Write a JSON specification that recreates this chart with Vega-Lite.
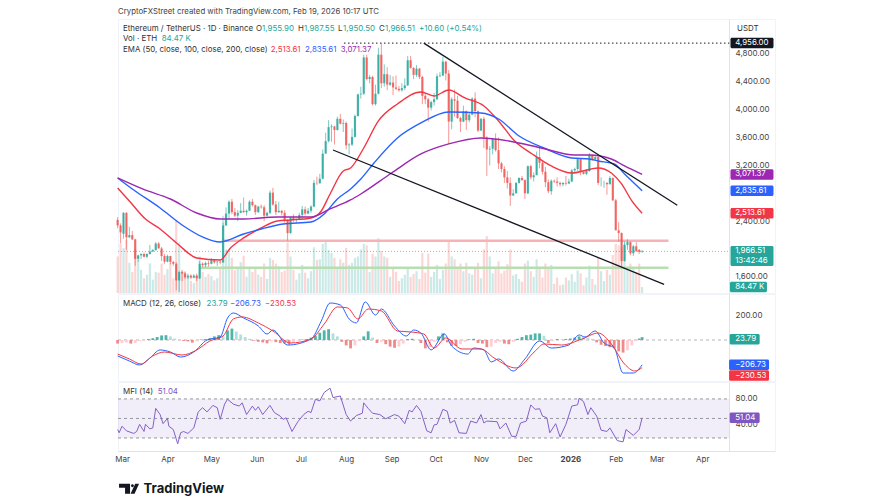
{
"$schema":"https://vega.github.io/schema/vega-lite/v6.json",
"background":"white",
"padding":{"left":114,"top":7,"right":0,"bottom":0},
"spacing":1,
"bounds":"flush",
"config":{"font":"Inter","scale":{"continuousPadding":0},"view":{"stroke":"#f0f3fa"},"axis":{"grid":false,"ticks":false,"title":null,"domainColor":"#e0e3eb","labelColor":"#444","labelFontSize":8,"labelFont":"Inter"},"text":{"align":"left","baseline":"middle","fontSize":7.9,"font":"Inter"},"line":{"strokeWidth":1.4,"interpolate":"monotone"}},
"datasets":{
"candles":[
{"date":"2025-02-26","open":2420,"high":2460,"low":2300,"close":2340,"vol":520},
{"date":"2025-02-28","open":2340,"high":2370,"low":2080,"close":2240,"vol":700},
{"date":"2025-03-02","open":2220,"high":2530,"low":2150,"close":2520,"vol":640},
{"date":"2025-03-04","open":2520,"high":2530,"low":1990,"close":2170,"vol":760},
{"date":"2025-03-06","open":2170,"high":2320,"low":2160,"close":2200,"vol":430},
{"date":"2025-03-08","open":2200,"high":2260,"low":2130,"close":2140,"vol":300},
{"date":"2025-03-10","open":2140,"high":2150,"low":1760,"close":1860,"vol":620},
{"date":"2025-03-12","open":1860,"high":1920,"low":1820,"close":1910,"vol":470},
{"date":"2025-03-14","open":1910,"high":1940,"low":1860,"close":1930,"vol":330},
{"date":"2025-03-16","open":1930,"high":1950,"low":1880,"close":1890,"vol":210},
{"date":"2025-03-18","open":1890,"high":1940,"low":1870,"close":1930,"vol":260},
{"date":"2025-03-20","open":1930,"high":2060,"low":1920,"close":1965,"vol":420},
{"date":"2025-03-22","open":1965,"high":2000,"low":1960,"close":1985,"vol":190},
{"date":"2025-03-24","open":1985,"high":2100,"low":1980,"close":2080,"vol":300},
{"date":"2025-03-26","open":2080,"high":2100,"low":2010,"close":2010,"vol":290},
{"date":"2025-03-28","open":2010,"high":2030,"low":1830,"close":1900,"vol":420},
{"date":"2025-03-30","open":1900,"high":1930,"low":1790,"close":1820,"vol":260},
{"date":"2025-04-01","open":1820,"high":1920,"low":1810,"close":1900,"vol":340},
{"date":"2025-04-03","open":1900,"high":1905,"low":1780,"close":1815,"vol":430},
{"date":"2025-04-05","open":1815,"high":1830,"low":1760,"close":1790,"vol":210},
{"date":"2025-04-07","open":1790,"high":1810,"low":1410,"close":1550,"vol":1040},
{"date":"2025-04-09","open":1550,"high":1690,"low":1385,"close":1670,"vol":720},
{"date":"2025-04-11","open":1670,"high":1690,"low":1540,"close":1650,"vol":330},
{"date":"2025-04-13","open":1650,"high":1680,"low":1570,"close":1595,"vol":300},
{"date":"2025-04-15","open":1595,"high":1650,"low":1570,"close":1620,"vol":230},
{"date":"2025-04-17","open":1620,"high":1640,"low":1570,"close":1590,"vol":170},
{"date":"2025-04-19","open":1590,"high":1640,"low":1580,"close":1620,"vol":140},
{"date":"2025-04-21","open":1620,"high":1650,"low":1540,"close":1580,"vol":250},
{"date":"2025-04-23","open":1580,"high":1830,"low":1570,"close":1790,"vol":520},
{"date":"2025-04-25","open":1790,"high":1810,"low":1740,"close":1770,"vol":300},
{"date":"2025-04-27","open":1770,"high":1820,"low":1740,"close":1800,"vol":230},
{"date":"2025-04-29","open":1800,"high":1830,"low":1750,"close":1790,"vol":270},
{"date":"2025-05-01","open":1790,"high":1870,"low":1780,"close":1840,"vol":240},
{"date":"2025-05-03","open":1840,"high":1850,"low":1790,"close":1810,"vol":180},
{"date":"2025-05-05","open":1810,"high":1830,"low":1760,"close":1820,"vol":210},
{"date":"2025-05-07","open":1820,"high":1850,"low":1780,"close":1810,"vol":360},
{"date":"2025-05-09","open":1810,"high":2380,"low":1800,"close":2340,"vol":1100},
{"date":"2025-05-11","open":2340,"high":2600,"low":2330,"close":2510,"vol":620},
{"date":"2025-05-13","open":2510,"high":2700,"low":2420,"close":2680,"vol":580},
{"date":"2025-05-15","open":2680,"high":2720,"low":2500,"close":2530,"vol":500},
{"date":"2025-05-17","open":2530,"high":2590,"low":2460,"close":2480,"vol":330},
{"date":"2025-05-19","open":2480,"high":2560,"low":2400,"close":2520,"vol":360},
{"date":"2025-05-21","open":2520,"high":2660,"low":2520,"close":2550,"vol":440},
{"date":"2025-05-23","open":2550,"high":2740,"low":2520,"close":2530,"vol":530},
{"date":"2025-05-25","open":2530,"high":2570,"low":2480,"close":2550,"vol":230},
{"date":"2025-05-27","open":2550,"high":2700,"low":2550,"close":2680,"vol":370},
{"date":"2025-05-29","open":2680,"high":2720,"low":2610,"close":2630,"vol":300},
{"date":"2025-05-31","open":2630,"high":2640,"low":2490,"close":2530,"vol":340},
{"date":"2025-06-02","open":2530,"high":2620,"low":2520,"close":2610,"vol":260},
{"date":"2025-06-04","open":2610,"high":2640,"low":2580,"close":2600,"vol":230},
{"date":"2025-06-06","open":2600,"high":2630,"low":2400,"close":2480,"vol":420},
{"date":"2025-06-08","open":2480,"high":2540,"low":2470,"close":2520,"vol":200},
{"date":"2025-06-10","open":2520,"high":2840,"low":2500,"close":2810,"vol":500},
{"date":"2025-06-12","open":2810,"high":2880,"low":2620,"close":2640,"vol":470},
{"date":"2025-06-14","open":2640,"high":2690,"low":2490,"close":2530,"vol":420},
{"date":"2025-06-16","open":2530,"high":2680,"low":2520,"close":2550,"vol":380},
{"date":"2025-06-18","open":2550,"high":2560,"low":2480,"close":2520,"vol":300},
{"date":"2025-06-20","open":2520,"high":2560,"low":2380,"close":2410,"vol":320},
{"date":"2025-06-22","open":2410,"high":2430,"low":2120,"close":2230,"vol":720},
{"date":"2025-06-24","open":2230,"high":2460,"low":2220,"close":2450,"vol":520},
{"date":"2025-06-26","open":2450,"high":2500,"low":2390,"close":2420,"vol":330},
{"date":"2025-06-28","open":2420,"high":2440,"low":2380,"close":2430,"vol":190},
{"date":"2025-06-30","open":2430,"high":2520,"low":2420,"close":2490,"vol":280},
{"date":"2025-07-02","open":2490,"high":2620,"low":2430,"close":2570,"vol":400},
{"date":"2025-07-04","open":2570,"high":2610,"low":2480,"close":2510,"vol":290},
{"date":"2025-07-06","open":2510,"high":2590,"low":2500,"close":2550,"vol":210},
{"date":"2025-07-08","open":2550,"high":2630,"low":2520,"close":2610,"vol":310},
{"date":"2025-07-10","open":2610,"high":2990,"low":2600,"close":2950,"vol":650},
{"date":"2025-07-12","open":2950,"high":3040,"low":2920,"close":2945,"vol":470},
{"date":"2025-07-14","open":2945,"high":3080,"low":2940,"close":3010,"vol":480},
{"date":"2025-07-16","open":3010,"high":3430,"low":3000,"close":3370,"vol":700},
{"date":"2025-07-18","open":3370,"high":3670,"low":3370,"close":3550,"vol":750},
{"date":"2025-07-20","open":3550,"high":3850,"low":3530,"close":3750,"vol":610},
{"date":"2025-07-22","open":3750,"high":3790,"low":3540,"close":3760,"vol":570},
{"date":"2025-07-24","open":3760,"high":3770,"low":3500,"close":3710,"vol":500},
{"date":"2025-07-26","open":3710,"high":3900,"low":3700,"close":3870,"vol":350},
{"date":"2025-07-28","open":3870,"high":3940,"low":3790,"close":3800,"vol":480},
{"date":"2025-07-30","open":3800,"high":3860,"low":3680,"close":3810,"vol":430},
{"date":"2025-08-01","open":3810,"high":3830,"low":3430,"close":3490,"vol":640},
{"date":"2025-08-03","open":3490,"high":3520,"low":3360,"close":3500,"vol":400},
{"date":"2025-08-05","open":3500,"high":3730,"low":3480,"close":3610,"vol":430},
{"date":"2025-08-07","open":3610,"high":3930,"low":3600,"close":3910,"vol":500},
{"date":"2025-08-09","open":3910,"high":4230,"low":3900,"close":4220,"vol":520},
{"date":"2025-08-11","open":4220,"high":4330,"low":4160,"close":4230,"vol":620},
{"date":"2025-08-13","open":4230,"high":4790,"low":4210,"close":4750,"vol":700},
{"date":"2025-08-15","open":4750,"high":4790,"low":4420,"close":4440,"vol":680},
{"date":"2025-08-17","open":4440,"high":4500,"low":4380,"close":4470,"vol":300},
{"date":"2025-08-19","open":4470,"high":4490,"low":4060,"close":4080,"vol":560},
{"date":"2025-08-21","open":4080,"high":4360,"low":4060,"close":4230,"vol":520},
{"date":"2025-08-23","open":4230,"high":4890,"low":4220,"close":4790,"vol":780},
{"date":"2025-08-25","open":4790,"high":4956,"low":4310,"close":4380,"vol":600},
{"date":"2025-08-27","open":4380,"high":4650,"low":4330,"close":4510,"vol":520},
{"date":"2025-08-29","open":4510,"high":4610,"low":4280,"close":4360,"vol":500},
{"date":"2025-08-31","open":4360,"high":4500,"low":4340,"close":4390,"vol":230},
{"date":"2025-09-02","open":4390,"high":4480,"low":4210,"close":4320,"vol":370},
{"date":"2025-09-04","open":4320,"high":4490,"low":4280,"close":4300,"vol":300},
{"date":"2025-09-06","open":4300,"high":4340,"low":4260,"close":4280,"vol":170},
{"date":"2025-09-08","open":4280,"high":4380,"low":4260,"close":4310,"vol":210},
{"date":"2025-09-10","open":4310,"high":4450,"low":4280,"close":4350,"vol":260},
{"date":"2025-09-12","open":4350,"high":4770,"low":4340,"close":4710,"vol":350},
{"date":"2025-09-14","open":4710,"high":4770,"low":4590,"close":4600,"vol":230},
{"date":"2025-09-16","open":4600,"high":4610,"low":4440,"close":4500,"vol":270},
{"date":"2025-09-18","open":4500,"high":4640,"low":4470,"close":4590,"vol":310},
{"date":"2025-09-20","open":4590,"high":4600,"low":4440,"close":4470,"vol":200},
{"date":"2025-09-22","open":4470,"high":4490,"low":4080,"close":4200,"vol":570},
{"date":"2025-09-24","open":4200,"high":4240,"low":4080,"close":4150,"vol":290},
{"date":"2025-09-26","open":4150,"high":4170,"low":3830,"close":4030,"vol":560},
{"date":"2025-09-28","open":4030,"high":4130,"low":3990,"close":4110,"vol":230},
{"date":"2025-09-30","open":4110,"high":4240,"low":4060,"close":4150,"vol":300},
{"date":"2025-10-02","open":4150,"high":4520,"low":4140,"close":4480,"vol":400},
{"date":"2025-10-04","open":4480,"high":4540,"low":4470,"close":4490,"vol":200},
{"date":"2025-10-06","open":4490,"high":4760,"low":4480,"close":4690,"vol":330},
{"date":"2025-10-08","open":4690,"high":4700,"low":4420,"close":4520,"vol":420},
{"date":"2025-10-10","open":4520,"high":4570,"low":3510,"close":3830,"vol":740},
{"date":"2025-10-12","open":3830,"high":4180,"low":3720,"close":4150,"vol":520},
{"date":"2025-10-14","open":4150,"high":4290,"low":3900,"close":4130,"vol":480},
{"date":"2025-10-16","open":4130,"high":4200,"low":3870,"close":3880,"vol":350},
{"date":"2025-10-18","open":3880,"high":3900,"low":3680,"close":3830,"vol":420},
{"date":"2025-10-20","open":3830,"high":4060,"low":3820,"close":3980,"vol":310},
{"date":"2025-10-22","open":3980,"high":3990,"low":3710,"close":3850,"vol":430},
{"date":"2025-10-24","open":3850,"high":3960,"low":3820,"close":3930,"vol":280},
{"date":"2025-10-26","open":3930,"high":4180,"low":3920,"close":4160,"vol":260},
{"date":"2025-10-28","open":4160,"high":4250,"low":3890,"close":3980,"vol":370},
{"date":"2025-10-30","open":3980,"high":3990,"low":3680,"close":3700,"vol":430},
{"date":"2025-11-01","open":3700,"high":3880,"low":3700,"close":3870,"vol":210},
{"date":"2025-11-03","open":3870,"high":3900,"low":3450,"close":3600,"vol":620},
{"date":"2025-11-05","open":3600,"high":3620,"low":3050,"close":3430,"vol":810},
{"date":"2025-11-07","open":3430,"high":3480,"low":3200,"close":3440,"vol":520},
{"date":"2025-11-09","open":3440,"high":3590,"low":3360,"close":3580,"vol":280},
{"date":"2025-11-11","open":3580,"high":3660,"low":3400,"close":3420,"vol":340},
{"date":"2025-11-13","open":3420,"high":3600,"low":3150,"close":3230,"vol":450},
{"date":"2025-11-15","open":3230,"high":3250,"low":3100,"close":3150,"vol":280},
{"date":"2025-11-17","open":3150,"high":3190,"low":2950,"close":3030,"vol":320},
{"date":"2025-11-19","open":3030,"high":3120,"low":2870,"close":2950,"vol":410},
{"date":"2025-11-21","open":2950,"high":3030,"low":2620,"close":2770,"vol":620},
{"date":"2025-11-23","open":2770,"high":2860,"low":2760,"close":2800,"vol":250},
{"date":"2025-11-25","open":2800,"high":2960,"low":2800,"close":2950,"vol":270},
{"date":"2025-11-27","open":2950,"high":3030,"low":2940,"close":3020,"vol":200},
{"date":"2025-11-29","open":3020,"high":3050,"low":2980,"close":2990,"vol":160},
{"date":"2025-12-01","open":2990,"high":3000,"low":2720,"close":2800,"vol":420},
{"date":"2025-12-03","open":2800,"high":3200,"low":2790,"close":3190,"vol":460},
{"date":"2025-12-05","open":3190,"high":3210,"low":3000,"close":3030,"vol":310},
{"date":"2025-12-07","open":3030,"high":3100,"low":2970,"close":3060,"vol":230},
{"date":"2025-12-09","open":3060,"high":3400,"low":3060,"close":3320,"vol":480},
{"date":"2025-12-11","open":3320,"high":3450,"low":3160,"close":3240,"vol":350},
{"date":"2025-12-13","open":3240,"high":3260,"low":3070,"close":3110,"vol":220},
{"date":"2025-12-15","open":3110,"high":3180,"low":2890,"close":2960,"vol":420},
{"date":"2025-12-17","open":2960,"high":3000,"low":2800,"close":2830,"vol":350},
{"date":"2025-12-19","open":2830,"high":3000,"low":2780,"close":2980,"vol":400},
{"date":"2025-12-21","open":2980,"high":3000,"low":2950,"close":2970,"vol":130},
{"date":"2025-12-23","open":2970,"high":3030,"low":2900,"close":2950,"vol":220},
{"date":"2025-12-25","open":2950,"high":2970,"low":2900,"close":2930,"vol":110},
{"date":"2025-12-27","open":2930,"high":2960,"low":2900,"close":2950,"vol":120},
{"date":"2025-12-29","open":2950,"high":3050,"low":2910,"close":2940,"vol":220},
{"date":"2025-12-31","open":2940,"high":3010,"low":2940,"close":2970,"vol":180},
{"date":"2026-01-02","open":2970,"high":3150,"low":2960,"close":3130,"vol":270},
{"date":"2026-01-04","open":3130,"high":3170,"low":3090,"close":3150,"vol":160},
{"date":"2026-01-06","open":3150,"high":3310,"low":3120,"close":3290,"vol":320},
{"date":"2026-01-08","open":3290,"high":3300,"low":3060,"close":3110,"vol":280},
{"date":"2026-01-10","open":3110,"high":3110,"low":3070,"close":3080,"vol":110},
{"date":"2026-01-12","open":3080,"high":3150,"low":3060,"close":3120,"vol":220},
{"date":"2026-01-14","open":3120,"high":3380,"low":3110,"close":3350,"vol":390},
{"date":"2026-01-16","open":3350,"high":3360,"low":3270,"close":3290,"vol":200},
{"date":"2026-01-18","open":3290,"high":3350,"low":3270,"close":3320,"vol":120},
{"date":"2026-01-20","open":3320,"high":3330,"low":2920,"close":2950,"vol":500},
{"date":"2026-01-22","open":2950,"high":3030,"low":2900,"close":2950,"vol":310},
{"date":"2026-01-24","open":2950,"high":2980,"low":2880,"close":2950,"vol":170},
{"date":"2026-01-26","open":2950,"high":2960,"low":2780,"close":2930,"vol":330},
{"date":"2026-01-28","open":2930,"high":3050,"low":2930,"close":3020,"vol":260},
{"date":"2026-01-30","open":3020,"high":3030,"low":2690,"close":2700,"vol":540},
{"date":"2026-02-01","open":2700,"high":2720,"low":2270,"close":2270,"vol":700},
{"date":"2026-02-03","open":2270,"high":2390,"low":2110,"close":2230,"vol":680},
{"date":"2026-02-05","open":2230,"high":2240,"low":1750,"close":1830,"vol":650},
{"date":"2026-02-07","open":1830,"high":2110,"low":1820,"close":2060,"vol":700},
{"date":"2026-02-09","open":2060,"high":2140,"low":1990,"close":2100,"vol":360},
{"date":"2026-02-11","open":2100,"high":2110,"low":1910,"close":1940,"vol":420},
{"date":"2026-02-13","open":1940,"high":2060,"low":1900,"close":2040,"vol":340},
{"date":"2026-02-15","open":2040,"high":2100,"low":1960,"close":1970,"vol":300},
{"date":"2026-02-17","open":1990,"high":2000,"low":1930,"close":1960,"vol":420},
{"date":"2026-02-19","open":1955.9,"high":1987.55,"low":1950.5,"close":1966.51,"vol":84.47}
],
"emas":[
{"series":"EMA 50","date":"2025-02-26","price":2877},{"series":"EMA 50","date":"2025-03-06","price":2691},{"series":"EMA 50","date":"2025-03-17","price":2432},{"series":"EMA 50","date":"2025-03-27","price":2289},{"series":"EMA 50","date":"2025-04-08","price":2074},{"series":"EMA 50","date":"2025-04-21","price":1873},{"series":"EMA 50","date":"2025-05-07","price":1844},{"series":"EMA 50","date":"2025-05-14","price":2016},{"series":"EMA 50","date":"2025-05-23","price":2160},{"series":"EMA 50","date":"2025-06-04","price":2303},{"series":"EMA 50","date":"2025-06-15","price":2404},{"series":"EMA 50","date":"2025-06-24","price":2418},{"series":"EMA 50","date":"2025-07-08","price":2447},{"series":"EMA 50","date":"2025-07-15","price":2547},{"series":"EMA 50","date":"2025-07-21","price":2791},{"series":"EMA 50","date":"2025-07-30","price":3121},{"series":"EMA 50","date":"2025-08-04","price":3164},{"series":"EMA 50","date":"2025-08-13","price":3451},{"series":"EMA 50","date":"2025-08-23","price":3839},{"series":"EMA 50","date":"2025-09-05","price":4082},{"series":"EMA 50","date":"2025-09-21","price":4255},{"series":"EMA 50","date":"2025-09-30","price":4197},{"series":"EMA 50","date":"2025-10-10","price":4283},{"series":"EMA 50","date":"2025-10-21","price":4169},{"series":"EMA 50","date":"2025-11-03","price":4054},{"series":"EMA 50","date":"2025-11-13","price":3839},{"series":"EMA 50","date":"2025-11-24","price":3552},{"series":"EMA 50","date":"2025-12-06","price":3365},{"series":"EMA 50","date":"2025-12-19","price":3193},{"series":"EMA 50","date":"2026-01-02","price":3092},{"series":"EMA 50","date":"2026-01-20","price":3164},{"series":"EMA 50","date":"2026-01-29","price":3092},{"series":"EMA 50","date":"2026-02-05","price":2935},{"series":"EMA 50","date":"2026-02-12","price":2691},{"series":"EMA 50","date":"2026-02-19","price":2513.61},
{"series":"EMA 100","date":"2025-02-26","price":3021},{"series":"EMA 100","date":"2025-03-08","price":2863},{"series":"EMA 100","date":"2025-03-27","price":2590},{"series":"EMA 100","date":"2025-04-12","price":2332},{"series":"EMA 100","date":"2025-04-25","price":2174},{"series":"EMA 100","date":"2025-05-07","price":2102},{"series":"EMA 100","date":"2025-05-23","price":2217},{"series":"EMA 100","date":"2025-06-04","price":2289},{"series":"EMA 100","date":"2025-06-19","price":2361},{"series":"EMA 100","date":"2025-07-08","price":2389},{"series":"EMA 100","date":"2025-07-17","price":2504},{"series":"EMA 100","date":"2025-07-26","price":2719},{"series":"EMA 100","date":"2025-08-04","price":2863},{"series":"EMA 100","date":"2025-08-11","price":3006},{"series":"EMA 100","date":"2025-08-20","price":3236},{"series":"EMA 100","date":"2025-09-05","price":3595},{"series":"EMA 100","date":"2025-09-21","price":3810},{"series":"EMA 100","date":"2025-10-10","price":3968},{"series":"EMA 100","date":"2025-11-01","price":3953},{"series":"EMA 100","date":"2025-11-13","price":3867},{"series":"EMA 100","date":"2025-11-27","price":3623},{"series":"EMA 100","date":"2025-12-14","price":3451},{"series":"EMA 100","date":"2026-01-02","price":3308},{"series":"EMA 100","date":"2026-01-14","price":3293},{"series":"EMA 100","date":"2026-01-20","price":3265},{"series":"EMA 100","date":"2026-01-31","price":3222},{"series":"EMA 100","date":"2026-02-07","price":3078},{"series":"EMA 100","date":"2026-02-19","price":2835.61},
{"series":"EMA 200","date":"2025-02-26","price":3021},{"series":"EMA 200","date":"2025-03-15","price":2863},{"series":"EMA 200","date":"2025-04-03","price":2719},{"series":"EMA 200","date":"2025-04-21","price":2518},{"series":"EMA 200","date":"2025-05-07","price":2432},{"series":"EMA 200","date":"2025-05-23","price":2432},{"series":"EMA 200","date":"2025-06-15","price":2461},{"series":"EMA 200","date":"2025-07-08","price":2461},{"series":"EMA 200","date":"2025-07-21","price":2576},{"series":"EMA 200","date":"2025-08-04","price":2705},{"series":"EMA 200","date":"2025-08-11","price":2791},{"series":"EMA 200","date":"2025-09-01","price":3092},{"series":"EMA 200","date":"2025-09-21","price":3365},{"series":"EMA 200","date":"2025-10-10","price":3509},{"series":"EMA 200","date":"2025-11-01","price":3595},{"series":"EMA 200","date":"2025-11-20","price":3552},{"series":"EMA 200","date":"2025-12-12","price":3451},{"series":"EMA 200","date":"2026-01-04","price":3351},{"series":"EMA 200","date":"2026-01-14","price":3351},{"series":"EMA 200","date":"2026-01-29","price":3293},{"series":"EMA 200","date":"2026-02-07","price":3193},{"series":"EMA 200","date":"2026-02-19","price":3071.37}
],
"macd":[
{"series":"MACD","date":"2025-02-26","value":-133},{"series":"MACD","date":"2025-03-06","value":-175},{"series":"MACD","date":"2025-03-13","value":-208},{"series":"MACD","date":"2025-03-20","value":-150},{"series":"MACD","date":"2025-03-27","value":-83},{"series":"MACD","date":"2025-04-03","value":-100},{"series":"MACD","date":"2025-04-10","value":-142},{"series":"MACD","date":"2025-04-19","value":-100},{"series":"MACD","date":"2025-04-28","value":0},{"series":"MACD","date":"2025-05-07","value":25},{"series":"MACD","date":"2025-05-12","value":183},{"series":"MACD","date":"2025-05-16","value":225},{"series":"MACD","date":"2025-05-23","value":183},{"series":"MACD","date":"2025-06-02","value":117},{"series":"MACD","date":"2025-06-08","value":50},{"series":"MACD","date":"2025-06-12","value":83},{"series":"MACD","date":"2025-06-22","value":-42},{"series":"MACD","date":"2025-07-08","value":8},{"series":"MACD","date":"2025-07-15","value":158},{"series":"MACD","date":"2025-07-21","value":308},{"series":"MACD","date":"2025-07-28","value":292},{"series":"MACD","date":"2025-08-03","value":175},{"series":"MACD","date":"2025-08-08","value":142},{"series":"MACD","date":"2025-08-14","value":317},{"series":"MACD","date":"2025-08-21","value":208},{"series":"MACD","date":"2025-08-25","value":258},{"series":"MACD","date":"2025-09-03","value":117},{"series":"MACD","date":"2025-09-11","value":33},{"series":"MACD","date":"2025-09-16","value":83},{"series":"MACD","date":"2025-09-21","value":58},{"series":"MACD","date":"2025-09-28","value":-83},{"series":"MACD","date":"2025-10-07","value":50},{"series":"MACD","date":"2025-10-12","value":-50},{"series":"MACD","date":"2025-10-23","value":-117},{"series":"MACD","date":"2025-10-27","value":-67},{"series":"MACD","date":"2025-11-03","value":-83},{"series":"MACD","date":"2025-11-08","value":-183},{"series":"MACD","date":"2025-11-13","value":-158},{"series":"MACD","date":"2025-11-23","value":-258},{"series":"MACD","date":"2025-12-01","value":-158},{"series":"MACD","date":"2025-12-11","value":-8},{"series":"MACD","date":"2025-12-19","value":-67},{"series":"MACD","date":"2025-12-31","value":-42},{"series":"MACD","date":"2026-01-07","value":42},{"series":"MACD","date":"2026-01-11","value":25},{"series":"MACD","date":"2026-01-18","value":75},{"series":"MACD","date":"2026-01-24","value":-25},{"series":"MACD","date":"2026-01-31","value":-67},{"series":"MACD","date":"2026-02-06","value":-275},{"series":"MACD","date":"2026-02-13","value":-275},{"series":"MACD","date":"2026-02-19","value":-206.73},
{"series":"Signal","date":"2025-02-26","value":-117},{"series":"Signal","date":"2025-03-06","value":-158},{"series":"Signal","date":"2025-03-14","value":-200},{"series":"Signal","date":"2025-03-22","value":-133},{"series":"Signal","date":"2025-03-30","value":-100},{"series":"Signal","date":"2025-04-11","value":-125},{"series":"Signal","date":"2025-04-21","value":-83},{"series":"Signal","date":"2025-04-30","value":-8},{"series":"Signal","date":"2025-05-09","value":33},{"series":"Signal","date":"2025-05-16","value":175},{"series":"Signal","date":"2025-05-22","value":192},{"series":"Signal","date":"2025-06-02","value":142},{"series":"Signal","date":"2025-06-12","value":75},{"series":"Signal","date":"2025-06-24","value":-25},{"series":"Signal","date":"2025-07-08","value":8},{"series":"Signal","date":"2025-07-17","value":133},{"series":"Signal","date":"2025-07-26","value":275},{"series":"Signal","date":"2025-08-02","value":267},{"series":"Signal","date":"2025-08-09","value":175},{"series":"Signal","date":"2025-08-16","value":258},{"series":"Signal","date":"2025-08-25","value":242},{"series":"Signal","date":"2025-09-05","value":75},{"series":"Signal","date":"2025-09-14","value":67},{"series":"Signal","date":"2025-09-23","value":50},{"series":"Signal","date":"2025-09-30","value":-67},{"series":"Signal","date":"2025-10-08","value":17},{"series":"Signal","date":"2025-10-19","value":-75},{"series":"Signal","date":"2025-11-01","value":-75},{"series":"Signal","date":"2025-11-10","value":-150},{"series":"Signal","date":"2025-11-25","value":-233},{"series":"Signal","date":"2025-12-08","value":-92},{"series":"Signal","date":"2025-12-14","value":-33},{"series":"Signal","date":"2025-12-26","value":-42},{"series":"Signal","date":"2026-01-09","value":8},{"series":"Signal","date":"2026-01-20","value":58},{"series":"Signal","date":"2026-01-29","value":-33},{"series":"Signal","date":"2026-02-07","value":-200},{"series":"Signal","date":"2026-02-14","value":-258},{"series":"Signal","date":"2026-02-19","value":-230.53}
],
"hist":[
{"date":"2025-02-26","value":-30},{"date":"2025-03-01","value":-25},{"date":"2025-03-04","value":-20},{"date":"2025-03-07","value":-30},{"date":"2025-03-10","value":-25},{"date":"2025-03-13","value":-10},{"date":"2025-03-16","value":-5},{"date":"2025-03-19","value":8},{"date":"2025-03-22","value":15},{"date":"2025-03-25","value":25},{"date":"2025-03-28","value":38},{"date":"2025-03-31","value":40},{"date":"2025-04-03","value":30},{"date":"2025-04-06","value":12},{"date":"2025-04-09","value":4},{"date":"2025-04-12","value":-8},{"date":"2025-04-15","value":-12},{"date":"2025-04-18","value":-22},{"date":"2025-04-21","value":-10},{"date":"2025-04-24","value":4},{"date":"2025-04-27","value":8},{"date":"2025-04-30","value":15},{"date":"2025-05-03","value":30},{"date":"2025-05-06","value":40},{"date":"2025-05-09","value":32},{"date":"2025-05-12","value":80},{"date":"2025-05-15","value":95},{"date":"2025-05-18","value":70},{"date":"2025-05-21","value":45},{"date":"2025-05-24","value":25},{"date":"2025-05-27","value":10},{"date":"2025-05-30","value":-6},{"date":"2025-06-02","value":-15},{"date":"2025-06-05","value":-20},{"date":"2025-06-08","value":-28},{"date":"2025-06-11","value":-12},{"date":"2025-06-14","value":-18},{"date":"2025-06-17","value":-25},{"date":"2025-06-20","value":-30},{"date":"2025-06-23","value":-38},{"date":"2025-06-26","value":-20},{"date":"2025-06-29","value":-4},{"date":"2025-07-02","value":4},{"date":"2025-07-05","value":8},{"date":"2025-07-08","value":20},{"date":"2025-07-11","value":35},{"date":"2025-07-14","value":60},{"date":"2025-07-17","value":80},{"date":"2025-07-20","value":90},{"date":"2025-07-23","value":55},{"date":"2025-07-26","value":30},{"date":"2025-07-29","value":-15},{"date":"2025-08-01","value":-45},{"date":"2025-08-04","value":-70},{"date":"2025-08-07","value":-45},{"date":"2025-08-10","value":-10},{"date":"2025-08-13","value":30},{"date":"2025-08-16","value":72},{"date":"2025-08-19","value":20},{"date":"2025-08-22","value":-25},{"date":"2025-08-25","value":-15},{"date":"2025-08-28","value":-35},{"date":"2025-08-31","value":-55},{"date":"2025-09-03","value":-65},{"date":"2025-09-06","value":-55},{"date":"2025-09-09","value":-30},{"date":"2025-09-12","value":8},{"date":"2025-09-15","value":10},{"date":"2025-09-18","value":2},{"date":"2025-09-21","value":-25},{"date":"2025-09-24","value":-70},{"date":"2025-09-27","value":-60},{"date":"2025-09-30","value":-15},{"date":"2025-10-03","value":30},{"date":"2025-10-06","value":55},{"date":"2025-10-09","value":-20},{"date":"2025-10-12","value":-48},{"date":"2025-10-15","value":-50},{"date":"2025-10-18","value":-35},{"date":"2025-10-21","value":-15},{"date":"2025-10-24","value":5},{"date":"2025-10-27","value":10},{"date":"2025-10-30","value":-25},{"date":"2025-11-02","value":-30},{"date":"2025-11-05","value":-60},{"date":"2025-11-08","value":-55},{"date":"2025-11-11","value":-25},{"date":"2025-11-14","value":-15},{"date":"2025-11-17","value":-30},{"date":"2025-11-20","value":-35},{"date":"2025-11-23","value":-15},{"date":"2025-11-26","value":10},{"date":"2025-11-29","value":25},{"date":"2025-12-02","value":40},{"date":"2025-12-05","value":45},{"date":"2025-12-08","value":55},{"date":"2025-12-11","value":55},{"date":"2025-12-14","value":35},{"date":"2025-12-17","value":-25},{"date":"2025-12-20","value":-10},{"date":"2025-12-23","value":8},{"date":"2025-12-26","value":4},{"date":"2025-12-29","value":8},{"date":"2026-01-01","value":12},{"date":"2026-01-04","value":20},{"date":"2026-01-07","value":30},{"date":"2026-01-10","value":25},{"date":"2026-01-13","value":18},{"date":"2026-01-16","value":10},{"date":"2026-01-19","value":-20},{"date":"2026-01-22","value":-40},{"date":"2026-01-25","value":-50},{"date":"2026-01-28","value":-60},{"date":"2026-01-31","value":-70},{"date":"2026-02-03","value":-95},{"date":"2026-02-06","value":-105},{"date":"2026-02-09","value":-85},{"date":"2026-02-12","value":-45},{"date":"2026-02-15","value":-10},{"date":"2026-02-17","value":12},{"date":"2026-02-19","value":23.79}
],
"mfi":[
{"date":"2025-02-26","value":33},{"date":"2025-02-27","value":28},{"date":"2025-03-01","value":38},{"date":"2025-03-04","value":31},{"date":"2025-03-09","value":27},{"date":"2025-03-11","value":30},{"date":"2025-03-13","value":41},{"date":"2025-03-16","value":30},{"date":"2025-03-17","value":41},{"date":"2025-03-20","value":34},{"date":"2025-03-22","value":35.5},{"date":"2025-03-24","value":65.5},{"date":"2025-03-27","value":56},{"date":"2025-03-29","value":42},{"date":"2025-04-01","value":50},{"date":"2025-04-02","value":38},{"date":"2025-04-05","value":33},{"date":"2025-04-08","value":11},{"date":"2025-04-10","value":28},{"date":"2025-04-12","value":30},{"date":"2025-04-15","value":27},{"date":"2025-04-19","value":35.5},{"date":"2025-04-22","value":60},{"date":"2025-04-25","value":66.5},{"date":"2025-04-28","value":60},{"date":"2025-05-02","value":70},{"date":"2025-05-05","value":66.5},{"date":"2025-05-07","value":48.5},{"date":"2025-05-10","value":72},{"date":"2025-05-12","value":79.5},{"date":"2025-05-16","value":72},{"date":"2025-05-20","value":69},{"date":"2025-05-22","value":74},{"date":"2025-05-25","value":56},{"date":"2025-05-29","value":69},{"date":"2025-05-31","value":62.5},{"date":"2025-06-02","value":68},{"date":"2025-06-05","value":56},{"date":"2025-06-10","value":70},{"date":"2025-06-13","value":59},{"date":"2025-06-17","value":53.5},{"date":"2025-06-19","value":48.5},{"date":"2025-06-21","value":51},{"date":"2025-06-25","value":30},{"date":"2025-06-29","value":45},{"date":"2025-07-03","value":56},{"date":"2025-07-06","value":61},{"date":"2025-07-08","value":59},{"date":"2025-07-11","value":79.5},{"date":"2025-07-14","value":77},{"date":"2025-07-17","value":90},{"date":"2025-07-21","value":96.5},{"date":"2025-07-23","value":82},{"date":"2025-07-28","value":84.5},{"date":"2025-08-01","value":56},{"date":"2025-08-04","value":46},{"date":"2025-08-08","value":54.5},{"date":"2025-08-12","value":58},{"date":"2025-08-13","value":74},{"date":"2025-08-16","value":65.5},{"date":"2025-08-19","value":58},{"date":"2025-08-24","value":56},{"date":"2025-08-28","value":49.5},{"date":"2025-09-03","value":56},{"date":"2025-09-06","value":53.5},{"date":"2025-09-10","value":42},{"date":"2025-09-13","value":62.5},{"date":"2025-09-15","value":60},{"date":"2025-09-18","value":70},{"date":"2025-09-21","value":61},{"date":"2025-09-25","value":31},{"date":"2025-09-28","value":28},{"date":"2025-09-30","value":40},{"date":"2025-10-02","value":41},{"date":"2025-10-06","value":64},{"date":"2025-10-09","value":61},{"date":"2025-10-11","value":43},{"date":"2025-10-14","value":47},{"date":"2025-10-17","value":28},{"date":"2025-10-22","value":27},{"date":"2025-10-25","value":46},{"date":"2025-10-29","value":43},{"date":"2025-11-01","value":56},{"date":"2025-11-03","value":43},{"date":"2025-11-05","value":46},{"date":"2025-11-12","value":45},{"date":"2025-11-14","value":34},{"date":"2025-11-18","value":43},{"date":"2025-11-22","value":22.5},{"date":"2025-11-25","value":22.5},{"date":"2025-11-28","value":43},{"date":"2025-12-02","value":46},{"date":"2025-12-05","value":70.7},{"date":"2025-12-08","value":64},{"date":"2025-12-11","value":65},{"date":"2025-12-13","value":53.6},{"date":"2025-12-16","value":51},{"date":"2025-12-18","value":28},{"date":"2025-12-22","value":42},{"date":"2025-12-25","value":21.5},{"date":"2025-12-29","value":41},{"date":"2026-01-02","value":69},{"date":"2026-01-06","value":71},{"date":"2026-01-07","value":81},{"date":"2026-01-10","value":76},{"date":"2026-01-13","value":56},{"date":"2026-01-15","value":66.5},{"date":"2026-01-19","value":53.6},{"date":"2026-01-22","value":32},{"date":"2026-01-26","value":30},{"date":"2026-01-28","value":35.5},{"date":"2026-02-02","value":16},{"date":"2026-02-06","value":14},{"date":"2026-02-08","value":33},{"date":"2026-02-13","value":24},{"date":"2026-02-17","value":33},{"date":"2026-02-19","value":51.04}
]
},
"vconcat":[
{"width":657,"height":274,
"title":{"text":"CryptoFXStreet created with TradingView.com, Feb 19, 2026 10:17 UTC","anchor":"start","frame":"group","fontSize":7.8,"fontWeight":"normal","font":"Inter","color":"#444","offset":3},
"resolve":{"scale":{"y":"independent"}},
"layer":[
{"encoding":{"x":{"field":"date","type":"temporal","axis":null,"scale":{"domain":["2025-02-26T06:00:00","2026-05-20T17:00:00"]}},"y":{"field":"vol","type":"quantitative","axis":null,"scale":{"domain":[0,3900]}}},
"layer":[
{"data":{"name":"candles"},"mark":{"type":"bar","size":2.2,"opacity":0.24},"encoding":{"color":{"condition":{"test":"datum.close>=datum.open","value":"#26a69a"},"value":"#ef5350"}}},
{"data":{"values":[{"date":"2026-05-02T14:00:00","vol":84.47,"series":"Last"}]},"mark":{"type":"tick","orient":"horizontal","size":37,"thickness":10.5,"cornerRadius":1.5,"opacity":1},"encoding":{"color":{"field":"series","type":"nominal","legend":null,"scale":{"domain":["EMA 50","EMA 100","EMA 200","Last","High","Text","MACD","Signal","Hist","above rising","above falling","below falling","below rising"],"range":["#f23645","#2962ff","#9c27b0","#26a69a","#131722","#333333","#2962ff","#f23645","#26a69a","#4db6a8","#b2dfdb","#ef8a8a","#ffcdd2"]}}}},
{"data":{"values":[{"date":"2026-04-23T12:00:00","vol":84.47,"label":"84.47 K"}]},"mark":{"type":"text","color":"white"},"encoding":{"text":{"field":"label"}}}
]},
{"encoding":{"x":{"field":"date","type":"temporal","axis":null,"scale":{"domain":["2025-02-26T06:00:00","2026-05-20T17:00:00"]}},"y":{"field":"price","type":"quantitative","scale":{"domain":[1370,5302]},"axis":{"orient":"right","offset":-46,"labelPadding":6,"format":",.2f","values":[1600,2400,3200,3600,4000,4400,4800]}}},
"layer":[
{"data":{"values":[{"date":"2025-02-26T06:00:00","end":"2026-04-19T12:00:00","price":1966.51}]},"mark":{"type":"rule","color":"#26a69a","strokeDash":[1,2],"opacity":0.6},"encoding":{"x2":{"field":"end"}}},
{"data":{"values":[{"date":"2025-07-30T12:00:00","end":"2026-04-19T12:00:00","price":4956}]},"mark":{"type":"rule","color":"#131722","strokeDash":[1.5,2.5]},"encoding":{"x2":{"field":"end"}}},
{"data":{"values":[{"date":"2025-05-08","end":"2026-03-09","price":2121}]},"mark":{"type":"rule","color":"#f7b2b7","strokeWidth":2.5},"encoding":{"x2":{"field":"end"}}},
{"data":{"values":[{"date":"2025-04-23","end":"2026-03-09","price":1733}]},"mark":{"type":"rule","color":"#b7deb0","strokeWidth":2.5},"encoding":{"x2":{"field":"end"}}},
{"data":{"name":"candles"},"mark":{"type":"rule","strokeWidth":1,"opacity":0.6},"encoding":{"y":{"field":"low","type":"quantitative","scale":{"domain":[1370,5302]}},"y2":{"field":"high"},"color":{"condition":{"test":"datum.close>=datum.open","value":"#26a69a"},"value":"#ef5350"}}},
{"data":{"name":"candles"},"mark":{"type":"bar","size":2.2,"opacity":0.8},"encoding":{"y":{"field":"open","type":"quantitative","scale":{"domain":[1370,5302]}},"y2":{"field":"close"},"color":{"condition":{"test":"datum.close>=datum.open","value":"#26a69a"},"value":"#ef5350"}}},
{"data":{"name":"emas"},"mark":{"type":"line"},"encoding":{"detail":{"field":"series"},"color":{"field":"series","type":"nominal","legend":null,"scale":{"domain":["EMA 50","EMA 100","EMA 200","Last","High","Text","MACD","Signal","Hist","above rising","above falling","below falling","below rising"],"range":["#f23645","#2962ff","#9c27b0","#26a69a","#131722","#333333","#2962ff","#f23645","#26a69a","#4db6a8","#b2dfdb","#ef8a8a","#ffcdd2"]}}}},
{"data":{"values":[{"date":"2025-09-23","end":"2026-03-15","price":4956,"to":2629},{"date":"2025-07-23","end":"2026-03-06","price":3422,"to":1495}]},"mark":{"type":"rule","color":"#131722","strokeWidth":1.3},"encoding":{"x2":{"field":"end"},"y2":{"field":"to"}}},
{"data":{"values":[{"date":"2026-05-05","series":"High","price":4956},{"date":"2026-05-05","series":"EMA 200","price":3071.37},{"date":"2026-05-05","series":"EMA 100","price":2835.61},{"date":"2026-05-05","series":"EMA 50","price":2513.61}]},"mark":{"type":"tick","orient":"horizontal","size":43,"thickness":10.5,"cornerRadius":1.5,"opacity":1},"encoding":{"color":{"field":"series","type":"nominal","legend":null,"scale":{"domain":["EMA 50","EMA 100","EMA 200","Last","High","Text","MACD","Signal","Hist","above rising","above falling","below falling","below rising"],"range":["#f23645","#2962ff","#9c27b0","#26a69a","#131722","#333333","#2962ff","#f23645","#26a69a","#4db6a8","#b2dfdb","#ef8a8a","#ffcdd2"]}}}},
{"data":{"values":[{"date":"2026-05-05","series":"Last","price":1900}]},"mark":{"type":"tick","orient":"horizontal","size":43,"thickness":20,"cornerRadius":1.5,"opacity":1},"encoding":{"color":{"field":"series","type":"nominal","legend":null,"scale":{"domain":["EMA 50","EMA 100","EMA 200","Last","High","Text","MACD","Signal","Hist","above rising","above falling","below falling","below rising"],"range":["#f23645","#2962ff","#9c27b0","#26a69a","#131722","#333333","#2962ff","#f23645","#26a69a","#4db6a8","#b2dfdb","#ef8a8a","#ffcdd2"]}}}},
{"data":{"values":[{"date":"2026-04-23T12:00:00","price":4956,"label":"4,956.00"},{"date":"2026-04-23T12:00:00","price":3071.37,"label":"3,071.37"},{"date":"2026-04-23T12:00:00","price":2835.61,"label":"2,835.61"},{"date":"2026-04-23T12:00:00","price":2513.61,"label":"2,513.61"},{"date":"2026-04-23T12:00:00","price":1966.51,"label":"1,966.51"},{"date":"2026-04-23T12:00:00","price":1830,"label":"13:42:46"}]},"mark":{"type":"text","color":"white"},"encoding":{"text":{"field":"label"}}},
{"data":{"values":[
{"date":"2025-03-01T16:00:00","price":5163,"series":"Text","label":"Ethereum / TetherUS · 1D · Binance"},
{"date":"2025-05-31T12:00:00","price":5163,"series":"Text","label":"O"},{"date":"2025-06-04T14:00:00","price":5163,"series":"Last","label":"1,955.90"},
{"date":"2025-06-29T02:00:00","price":5163,"series":"Text","label":"H"},{"date":"2025-07-03T05:00:00","price":5163,"series":"Last","label":"1,987.55"},
{"date":"2025-07-26T10:00:00","price":5163,"series":"Text","label":"L"},{"date":"2025-07-29T22:00:00","price":5163,"series":"Last","label":"1,950.50"},
{"date":"2025-08-23T10:00:00","price":5163,"series":"Text","label":"C"},{"date":"2025-08-27T12:00:00","price":5163,"series":"Last","label":"1,966.51"},
{"date":"2025-09-19T17:00:00","price":5163,"series":"Last","label":"+10.60 (+0.54%)"},
{"date":"2025-03-01T16:00:00","price":5011,"series":"Text","label":"Vol · ETH"},{"date":"2025-03-28T02:00:00","price":5011,"series":"Last","label":"84.47 K"},
{"date":"2025-03-01T16:00:00","price":4853,"series":"Text","label":"EMA (50, close, 100, close, 200, close)"},
{"date":"2025-06-10T12:00:00","price":4853,"series":"EMA 50","label":"2,513.61"},{"date":"2025-07-03T22:00:00","price":4853,"series":"EMA 100","label":"2,835.61"},{"date":"2025-07-28T07:00:00","price":4853,"series":"EMA 200","label":"3,071.37"},
{"date":"2026-04-24T19:00:00","price":5163,"series":"Text","label":"USDT"}
]},"mark":{"type":"text"},"encoding":{"text":{"field":"label"},"color":{"field":"series","type":"nominal","legend":null,"scale":{"domain":["EMA 50","EMA 100","EMA 200","Last","High","Text","MACD","Signal","Hist","above rising","above falling","below falling","below rising"],"range":["#f23645","#2962ff","#9c27b0","#26a69a","#131722","#333333","#2962ff","#f23645","#26a69a","#4db6a8","#b2dfdb","#ef8a8a","#ffcdd2"]}}}}
]}
]},
{"width":657,"height":87,
"encoding":{"x":{"field":"date","type":"temporal","axis":null,"scale":{"domain":["2025-02-26T06:00:00","2026-05-20T17:00:00"]}},"y":{"field":"value","type":"quantitative","scale":{"domain":[-341.5,383]},"axis":{"orient":"right","offset":-46,"labelPadding":6,"format":".2f","values":[200]}}},
"layer":[
{"data":{"values":[{"date":"2025-02-26T06:00:00","end":"2026-04-19T12:00:00","value":0}]},"mark":{"type":"rule","color":"#b2b5be","strokeDash":[3,3]},"encoding":{"x2":{"field":"end"}}},
{"data":{"name":"hist"},"transform":[{"window":[{"op":"lag","field":"value","as":"prev"}],"sort":[{"field":"date"}]},{"calculate":"(datum.value>=0?'above':'below')+(datum.value>=datum.prev?' rising':' falling')","as":"phase"}],"mark":{"type":"bar","size":2.8},"encoding":{"color":{"field":"phase","type":"nominal","legend":null,"scale":{"domain":["EMA 50","EMA 100","EMA 200","Last","High","Text","MACD","Signal","Hist","above rising","above falling","below falling","below rising"],"range":["#f23645","#2962ff","#9c27b0","#26a69a","#131722","#333333","#2962ff","#f23645","#26a69a","#4db6a8","#b2dfdb","#ef8a8a","#ffcdd2"]}}}},
{"data":{"name":"macd"},"mark":{"type":"line","strokeWidth":1},"encoding":{"color":{"field":"series","type":"nominal","legend":null,"scale":{"domain":["EMA 50","EMA 100","EMA 200","Last","High","Text","MACD","Signal","Hist","above rising","above falling","below falling","below rising"],"range":["#f23645","#2962ff","#9c27b0","#26a69a","#131722","#333333","#2962ff","#f23645","#26a69a","#4db6a8","#b2dfdb","#ef8a8a","#ffcdd2"]}}}},
{"data":{"values":[{"date":"2026-04-30","series":"Hist","value":6}]},"mark":{"type":"tick","orient":"horizontal","size":30,"thickness":10.5,"cornerRadius":1.5,"opacity":1},"encoding":{"color":{"field":"series","type":"nominal","legend":null,"scale":{"domain":["EMA 50","EMA 100","EMA 200","Last","High","Text","MACD","Signal","Hist","above rising","above falling","below falling","below rising"],"range":["#f23645","#2962ff","#9c27b0","#26a69a","#131722","#333333","#2962ff","#f23645","#26a69a","#4db6a8","#b2dfdb","#ef8a8a","#ffcdd2"]}}}},
{"data":{"values":[{"date":"2026-05-03","series":"MACD","value":-206.73},{"date":"2026-05-03","series":"Signal","value":-296}]},"mark":{"type":"tick","orient":"horizontal","size":40,"thickness":10.5,"cornerRadius":1.5,"opacity":1},"encoding":{"color":{"field":"series","type":"nominal","legend":null,"scale":{"domain":["EMA 50","EMA 100","EMA 200","Last","High","Text","MACD","Signal","Hist","above rising","above falling","below falling","below rising"],"range":["#f23645","#2962ff","#9c27b0","#26a69a","#131722","#333333","#2962ff","#f23645","#26a69a","#4db6a8","#b2dfdb","#ef8a8a","#ffcdd2"]}}}},
{"data":{"values":[{"date":"2026-04-23T12:00:00","value":6,"label":"23.79"},{"date":"2026-04-23T12:00:00","value":-206.73,"label":"−206.73"},{"date":"2026-04-23T12:00:00","value":-296,"label":"−230.53"}]},"mark":{"type":"text","color":"white"},"encoding":{"text":{"field":"label"}}},
{"data":{"values":[{"date":"2025-03-01T16:00:00","value":300,"label":"MACD (12, 26, close)"}]},"mark":{"type":"text","color":"#333333"},"encoding":{"text":{"field":"label"}}},
{"data":{"values":[{"date":"2025-04-27T17:00:00","value":300,"series":"Hist","label":"23.79"},{"date":"2025-05-13T17:00:00","value":300,"series":"MACD","label":"−206.73"},{"date":"2025-06-06T14:00:00","value":300,"series":"Signal","label":"−230.53"}]},"mark":{"type":"text"},"encoding":{"text":{"field":"label"},"color":{"field":"series","type":"nominal","legend":null,"scale":{"domain":["EMA 50","EMA 100","EMA 200","Last","High","Text","MACD","Signal","Hist","above rising","above falling","below falling","below rising"],"range":["#f23645","#2962ff","#9c27b0","#26a69a","#131722","#333333","#2962ff","#f23645","#26a69a","#4db6a8","#b2dfdb","#ef8a8a","#ffcdd2"]}}}}
]},
{"width":657,"height":69,
"encoding":{"x":{"field":"date","type":"temporal","scale":{"domain":["2025-02-26T06:00:00","2026-05-20T17:00:00"]},"axis":{"labelPadding":4,"values":[{"year":2025,"month":3,"date":1},{"year":2025,"month":4,"date":1},{"year":2025,"month":5,"date":1},{"year":2025,"month":6,"date":1},{"year":2025,"month":7,"date":1},{"year":2025,"month":8,"date":1},{"year":2025,"month":9,"date":1},{"year":2025,"month":10,"date":1},{"year":2025,"month":11,"date":1},{"year":2025,"month":12,"date":1},{"year":2026,"month":1,"date":1},{"year":2026,"month":2,"date":1},{"year":2026,"month":3,"date":1},{"year":2026,"month":4,"date":1}],"labelExpr":"month(datum.value)==0?'2026':timeFormat(datum.value,'%b')","labelFontWeight":{"condition":{"test":"month(datum.value)==0","value":"bold"},"value":"normal"},"labelOverlap":false}},"y":{"field":"value","type":"quantitative","scale":{"domain":[0,106]},"axis":{"orient":"right","offset":-46,"labelPadding":6,"format":".2f","values":[40,80]}}},
"layer":[
{"data":{"values":[{"date":"2025-02-26T06:00:00","end":"2026-04-19T12:00:00","value":80,"low":20}]},"mark":{"type":"rect","color":"#7e57c2","opacity":0.1},"encoding":{"x2":{"field":"end"},"y2":{"field":"low"}}},
{"data":{"values":[{"date":"2025-02-26T06:00:00","end":"2026-04-19T12:00:00","value":80},{"date":"2025-02-26T06:00:00","end":"2026-04-19T12:00:00","value":50},{"date":"2025-02-26T06:00:00","end":"2026-04-19T12:00:00","value":20}]},"mark":{"type":"rule","color":"#9598a1","strokeDash":[3,3]},"encoding":{"x2":{"field":"end"}}},
{"data":{"name":"mfi"},"mark":{"type":"line","color":"#8460c8","strokeWidth":1,"interpolate":"linear"}},
{"data":{"values":[{"date":"2026-04-30","value":51.04}]},"mark":{"type":"tick","orient":"horizontal","size":30,"thickness":10.5,"cornerRadius":1.5,"color":"#7e57c2","opacity":1}},
{"data":{"values":[{"date":"2026-04-23T12:00:00","value":51.04,"label":"51.04"}]},"mark":{"type":"text","color":"white"},"encoding":{"text":{"field":"label"}}},
{"data":{"values":[{"date":"2025-03-01T16:00:00","value":91,"label":"MFI (14)"}]},"mark":{"type":"text","color":"#333333"},"encoding":{"text":{"field":"label"}}},
{"data":{"values":[{"date":"2025-03-25T10:00:00","value":91,"label":"51.04"}]},"mark":{"type":"text","color":"#7e57c2"},"encoding":{"text":{"field":"label"}}},
{"data":{"values":[{"date":"2025-03-15T17:00:00","value":-58,"label":"TradingView"}]},"mark":{"type":"text","color":"#131722","fontSize":13,"fontWeight":"bold"},"encoding":{"text":{"field":"label"}}},
{"data":{"values":[{"date":"2025-03-05T19:00:00","value":-58}]},"mark":{"type":"point","filled":true,"opacity":1,"color":"#131722","size":400,"shape":"M-1,-.5H.1V.5H-.4V-.1H-1ZM.2,-.3A.14,.14 0 1 1 .48,-.3A.14,.14 0 1 1 .2,-.3ZM.62,-.5H1L.55,.5H.15Z"}}
]}
]}
